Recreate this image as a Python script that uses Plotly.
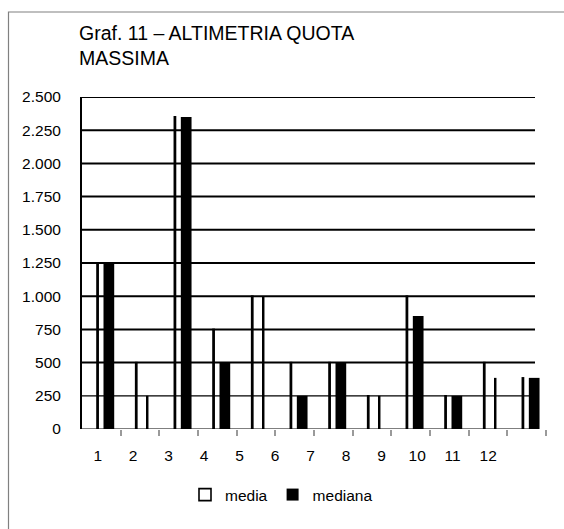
import plotly.graph_objects as go

# ---- data -------------------------------------------------------------
categories = ["1", "2", "3", "4", "5", "6", "7", "8", "9", "10", "11", "12"]
media = [1250, 500, 2350, 750, 1000, 500, 500, 250, 1000, 250, 500, 385]
mediana = [1250, 250, 2350, 500, 1000, 250, 500, 250, 850, 250, 385, 385]
y_ticks = [0, 250, 500, 750, 1000, 1250, 1500, 1750, 2000, 2250, 2500]

FONT = "Liberation Sans, Arial, sans-serif"

# plot area in pixels (page is 564 x 529)
L, R, T, B = 82, 546, 97, 429
W, H = 564, 529

pos = list(range(1, len(categories) + 1))

# mediana columns: every third group is drawn as a hairline
thin = [i % 3 == 1 for i in range(len(categories))]
med_width = [0.05 if t else 0.277 for t in thin]
med_offset = [0.169 if t else 0.056 for t in thin]

fig = go.Figure()

fig.add_trace(go.Bar(
    name="media", x=pos, y=media,
    width=0.03, offset=-0.112,
    marker=dict(color="white", line=dict(color="black", width=1.6)),
    hoverinfo="x+y",
))
fig.add_trace(go.Bar(
    name="mediana", x=pos, y=mediana,
    width=med_width, offset=med_offset,
    marker=dict(color="black", line=dict(color="black", width=0)),
    hoverinfo="x+y",
))
# carrier for the category label axis (draws nothing)
fig.add_trace(go.Scatter(
    x=pos, y=[None] * len(pos), xaxis="x2", yaxis="y",
    mode="markers", showlegend=False, hoverinfo="skip",
))

def px_x(p):
    return (p - L) / (R - L)

def px_y(p):
    return (B - p) / (B - T)

shapes = []
# horizontal rules at every y tick
for v in y_ticks:
    shapes.append(dict(
        type="line", xref="paper", yref="y",
        x0=0, x1=px_x(538 if v == 0 else 535), y0=v, y1=v,
        line=dict(color="black", width=1.2 if v in (0, 250) else 2),
        layer="below",
    ))
# chart-area frame (runs off the right and bottom of the page)
shapes.append(dict(
    type="rect", xref="paper", yref="paper",
    x0=px_x(8.5), x1=px_x(600), y0=px_y(560), y1=px_y(12),
    line=dict(color="#808080", width=1.2), fillcolor="rgba(0,0,0,0)",
    layer="below",
))

fig.update_layout(
    width=W, height=H,
    margin=dict(l=L, r=W - R, t=T, b=H - B, pad=0),
    paper_bgcolor="white", plot_bgcolor="white",
    font=dict(family=FONT, size=15.5, color="black"),
    separators=",.",
    barmode="overlay",
    title=dict(
        text="Graf. 11 – ALTIMETRIA QUOTA<br>MASSIMA",
        font=dict(family=FONT, size=19.5, color="black"),
        x=79 / W, xref="container", xanchor="left",
        y=1 - 40 / H, yref="container", yanchor="top",
    ),
    xaxis=dict(
        range=[0.5, len(categories) + 0.5],
        tickvals=[p + 0.5 for p in pos],
        showticklabels=False,
        ticks="outside", ticklen=6, tickwidth=1.5, tickcolor="#9a9a9a",
        showgrid=False, zeroline=False, showline=False,
        fixedrange=True,
    ),
    xaxis2=dict(
        overlaying="x", anchor="y", side="bottom",
        range=[0.558, 13.63],
        tickvals=pos, ticktext=categories,
        ticks="outside", ticklen=12, tickcolor="rgba(0,0,0,0)",
        tickfont=dict(family=FONT, size=15.5, color="black"),
        showgrid=False, zeroline=False, showline=False,
        fixedrange=True,
    ),
    yaxis=dict(
        range=[0, 2500],
        tickvals=y_ticks, tickformat=",d",
        ticks="outside", ticklen=16, tickcolor="rgba(0,0,0,0)",
        tickfont=dict(family=FONT, size=15.5, color="black"),
        showgrid=False, zeroline=False,
        showline=True, linecolor="black", linewidth=2,
        fixedrange=True,
    ),
    legend=dict(
        orientation="h",
        x=px_x(185), xanchor="left",
        y=px_y(495), yanchor="middle",
        font=dict(family=FONT, size=15.5, color="black"),
        bgcolor="rgba(0,0,0,0)",
        traceorder="normal",
    ),
    shapes=shapes,
    showlegend=True,
)

fig.write_html("out.html")
